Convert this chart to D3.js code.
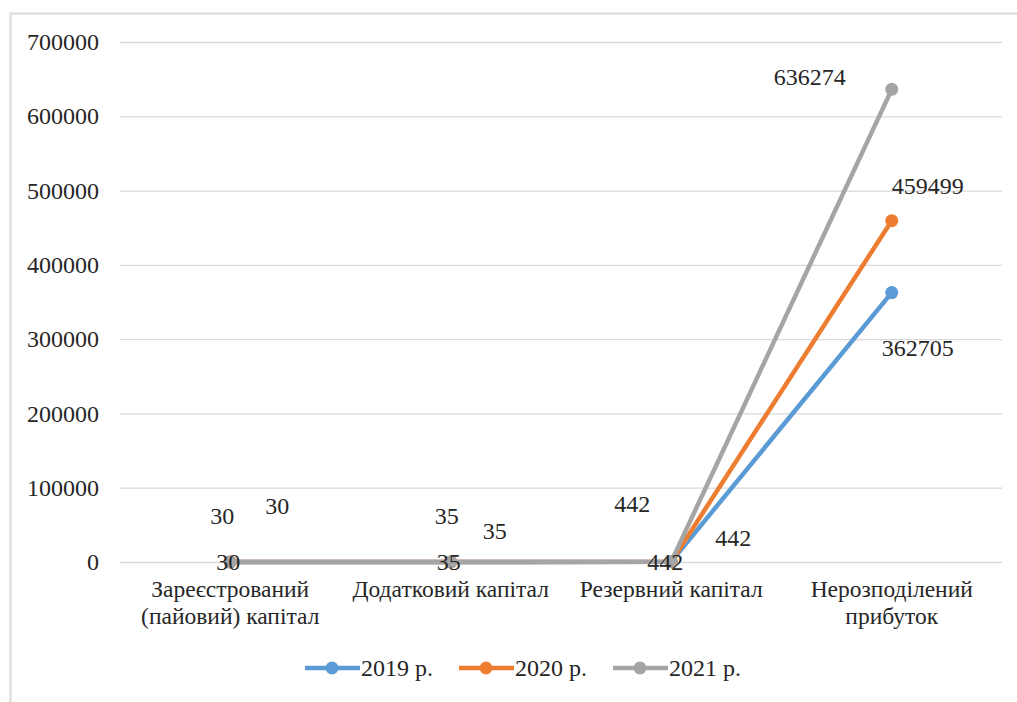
<!DOCTYPE html>
<html>
<head>
<meta charset="utf-8">
<script src="https://cdn.jsdelivr.net/npm/d3@7/dist/d3.min.js"></script>
<style>
  html, body { margin: 0; padding: 0; background: #fff; }
  #chart text { font-family: 'Liberation Serif', 'Times New Roman', serif; }
</style>
</head>
<body>
<svg id="chart" width="1017" height="702"></svg>
<script>
// Capital structure by component, 2019–2021
const categories = [
  ["Зареєстрований", "(пайовий) капітал"],
  ["Додатковий капітал"],
  ["Резервний капітал"],
  ["Нерозподілений", "прибуток"]
];
const seriesNames = ["2019 р.", "2020 р.", "2021 р."];
const values2019 = [30, 35, 442, 362705];
const values2020 = [30, 35, 442, 459499];
const values2021 = [30, 35, 442, 636274];
const yTicks = [0, 100000, 200000, 300000, 400000, 500000, 600000, 700000];

const colors = ["#5B9BD5", "#ED7D31", "#A5A5A5"];
const textColor = "#262626";
// Label offsets from each point (px), per series and category
const labelOffsets = [
  [[-2, 0], [-2, 0], [-6, 0], [26, 55]],
  [[47, -56], [44, -31], [62, -24], [36, -35]],
  [[-8, -46], [-4, -46], [-39, -58], [-82, -13]]
];

const series = [values2019, values2020, values2021].map((v, i) => ({
  name: seriesNames[i], values: v, color: colors[i], offsets: labelOffsets[i]
}));

const svg = d3.select("#chart");
const margin = { left: 120, right: 15, top: 42, bottom: 140 };
const W = 1017, H = 702;

// Outer frame
svg.append("rect")
  .attr("x", 10.5).attr("y", 13.5).attr("width", 1020).attr("height", 700)
  .attr("fill", "none").attr("stroke", "#d9d9d9").attr("stroke-width", 2);

const x = d3.scaleBand()
  .domain(d3.range(categories.length))
  .range([margin.left, W - margin.right])
  .paddingInner(0).paddingOuter(0);

const y = d3.scaleLinear()
  .domain([0, 700000])
  .range([H - margin.bottom, margin.top]);

// Gridlines and value axis
const yAxis = d3.axisLeft(y)
  .tickValues(yTicks)
  .tickSize(-(W - margin.right - margin.left))
  .tickPadding(21)
  .tickFormat(d3.format("d"));

const gy = svg.append("g")
  .attr("transform", `translate(${margin.left},0)`)
  .call(yAxis);
gy.attr("font-family", null);
gy.select(".domain").remove();
gy.selectAll(".tick line").attr("stroke", "#d9d9d9").attr("stroke-width", 1.3);
gy.selectAll(".tick text")
  .attr("font-size", 24)
  .attr("fill", textColor);

// Category axis labels
const gx = svg.append("g").attr("fill", textColor);
categories.forEach((lines, i) => {
  const t = gx.append("text")
    .attr("x", x(i) + x.bandwidth() / 2)
    .attr("y", 597)
    .attr("text-anchor", "middle")
    .attr("font-size", 23.5);
  lines.forEach((ln, j) => {
    t.append("tspan")
      .attr("x", x(i) + x.bandwidth() / 2)
      .attr("dy", j === 0 ? 0 : 27)
      .text(ln);
  });
});

const cx = i => x(i) + x.bandwidth() / 2;

const line = d3.line()
  .x((d, i) => cx(i))
  .y(d => y(d));

// Lines and markers
const gs = svg.append("g").selectAll("g")
  .data(series).join("g");

gs.append("path")
  .attr("d", d => line(d.values))
  .attr("fill", "none")
  .attr("stroke", d => d.color)
  .attr("stroke-width", 4.5)
  .attr("stroke-linejoin", "round")
  .attr("stroke-linecap", "round");

gs.selectAll("circle")
  .data(d => d.values.map((v, i) => ({ v, i, color: d.color })))
  .join("circle")
  .attr("cx", d => cx(d.i))
  .attr("cy", d => y(d.v))
  .attr("r", 6.5)
  .attr("fill", d => d.color);

// Data labels
const gl = svg.append("g").attr("fill", textColor);
series.forEach(s => {
  s.values.forEach((v, i) => {
    gl.append("text")
      .attr("x", cx(i) + s.offsets[i][0])
      .attr("y", y(v) + s.offsets[i][1])
      .attr("dy", "0.35em")
      .attr("text-anchor", "middle")
      .attr("font-size", 24)
      .text(d3.format("d")(v));
  });
});

// Legend
const legendItems = [
  { x0: 305, tx: 361 },
  { x0: 459, tx: 515 },
  { x0: 613, tx: 669 }
];
const gLeg = svg.append("g").attr("fill", textColor);
series.forEach((s, i) => {
  const it = legendItems[i];
  const ly = 668;
  gLeg.append("line")
    .attr("x1", it.x0).attr("x2", it.x0 + 55)
    .attr("y1", ly).attr("y2", ly)
    .attr("stroke", s.color).attr("stroke-width", 4.5);
  gLeg.append("circle")
    .attr("cx", it.x0 + 27).attr("cy", ly).attr("r", 6.5)
    .attr("fill", s.color);
  gLeg.append("text")
    .attr("x", it.tx).attr("y", ly).attr("dy", "0.35em")
    .attr("font-size", 24)
    .text(s.name);
});
</script>
</body>
</html>
